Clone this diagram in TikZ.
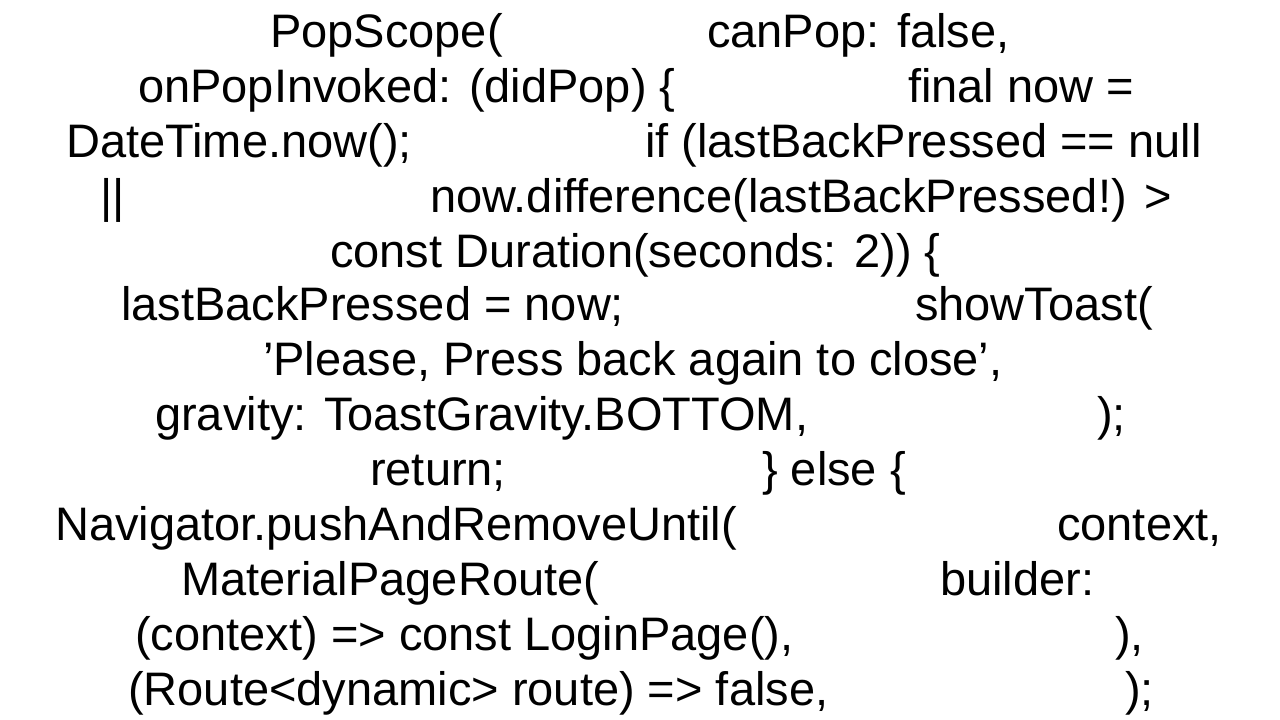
\documentclass[tikz,border=0pt]{standalone}
\usepackage{fontspec}
\setmainfont{Liberation Sans}
\begin{document}
\begin{tikzpicture}[x=1pt,y=1pt,
  codetext/.style={anchor=base west,inner sep=0pt,font=\fontsize{47}{55}\selectfont}]
\useasboundingbox[fill=white] (0,0) rectangle (1280,-720);
\node[codetext] (a1) at (270,-47) {PopScope(};
\node[codetext] (a2) at (707,-47) {canPop: false,};
\node[codetext] (b1) at (138,-102) {onPopInvoked: (didPop) \{};
\node[codetext] (b2) at (908,-102) {final now =};
\node[codetext] (c1) at (66,-157) {DateTime.now();};
\node[codetext] (c2) at (645,-157) {if (lastBackPressed == null};
\node[codetext] (d1) at (100,-212) {||};
\node[codetext] (d2) at (430,-212) {now.difference(lastBackPressed!) >};
\node[codetext] (e1) at (330,-267) {const Duration(seconds: 2)) \{};
\node[codetext] (f1) at (121,-320) {lastBackPressed = now;};
\node[codetext] (f2) at (915,-320) {showToast(};
\node[codetext] (g1) at (263,-375) {'Please, Press back again to close',};
\node[codetext] (h1) at (155,-430) {gravity: ToastGravity.BOTTOM,};
\node[codetext] (h2) at (1097,-430) {);};
\node[codetext] (i1) at (370,-485) {return;};
\node[codetext] (i2) at (762,-485) {\} else \{};
\node[codetext] (j1) at (55,-540) {Navigator.pushAndRemoveUntil(};
\node[codetext] (j2) at (1057,-540) {context,};
\node[codetext] (k1) at (181,-595) {MaterialPageRoute(};
\node[codetext] (k2) at (940,-595) {builder:};
\node[codetext] (l1) at (135,-650) {(context) => const LoginPage(),};
\node[codetext] (l2) at (1115,-650) {),};
\node[codetext] (m1) at (128,-705) {(Route<dynamic> route) => false,};
\node[codetext] (m2) at (1125,-705) {);};
\end{tikzpicture}
\end{document}
